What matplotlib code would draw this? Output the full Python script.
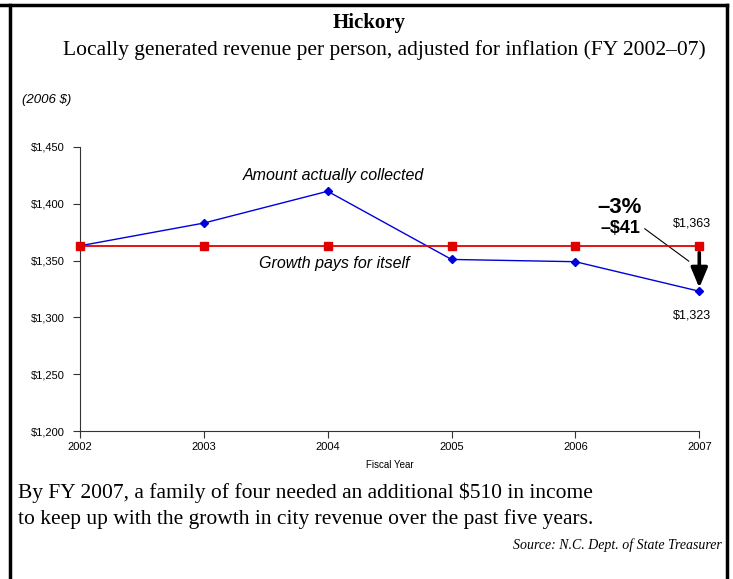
import matplotlib
matplotlib.use("Agg")
import matplotlib.pyplot as plt
from matplotlib.lines import Line2D

years = [2002, 2003, 2004, 2005, 2006, 2007]
collected = [1363, 1383, 1411, 1351, 1349, 1323]
growth_pays = [1363, 1363, 1363, 1363, 1363, 1363]
yticks = [1200, 1250, 1300, 1350, 1400, 1450]
change_pct = "\u20133%"
change_usd = "\u2013$41"

SANS = "Liberation Sans"
SERIF = "Liberation Serif"

fig = plt.figure(figsize=(7.33, 5.79), dpi=100)
ax = fig.add_axes([0.109, 0.2556, 0.845, 0.4906])

ax.plot(years, collected, color="#0000dd", lw=1.0, marker="D", ms=4,
        mec="#0000dd", mfc="#0000dd", zorder=2, clip_on=False)
ax.plot(years, growth_pays, color="#e00000", lw=1.3, marker="s", ms=6,
        mec="#e00000", mfc="#e00000", zorder=3, clip_on=False)

ax.set_xlim(2002, 2007)
ax.set_ylim(1200, 1450)
ax.set_xticks(years)
ax.set_xticklabels([str(y) for y in years], fontsize=8, family=SANS)
ax.set_yticks(yticks)
ax.set_yticklabels([f"${v:,}" for v in yticks], fontsize=8, family=SANS)
ax.tick_params(axis="both", length=5, width=0.8, color="#333333")
ax.tick_params(axis="y", pad=6)
ax.tick_params(axis="x", pad=3)
for s in ("top", "right"):
    ax.spines[s].set_visible(False)
for s in ("left", "bottom"):
    ax.spines[s].set_color("#333333")
    ax.spines[s].set_linewidth(0.8)
ax.set_xlabel("Fiscal Year", fontsize=7, family=SANS, labelpad=6)

# line labels
ax.text(2004.05, 1425, "Amount actually collected", fontsize=11.5, style="italic",
        family=SANS, ha="center", va="center")
ax.text(2004.05, 1347, "Growth pays for itself", fontsize=11.5, style="italic",
        family=SANS, ha="center", va="center")

# end-point values
ax.text(2006.94, 1383, f"${growth_pays[-1]:,}", fontsize=9, family=SANS,
        ha="center", va="center")
ax.text(2006.94, 1302, f"${collected[-1]:,}", fontsize=9, family=SANS,
        ha="center", va="center")

# change annotation
ax.text(2006.36, 1397, change_pct, fontsize=16, fontweight="bold",
        family=SANS, ha="center", va="center")
ax.text(2006.36, 1378, change_usd, fontsize=13, fontweight="bold",
        family=SANS, ha="center", va="center")
ax.plot([2006.56, 2006.915], [1378, 1349.5], color="black", lw=0.8)
ax.annotate("", xy=(2007, 1326), xytext=(2007, 1357),
            arrowprops=dict(arrowstyle="-|>,head_length=1.2,head_width=0.5",
                            color="black", lw=2.6, shrinkA=0, shrinkB=0))

# titles
fig.text(0.503, 0.961, "Hickory", fontsize=15, fontweight="bold", family=SERIF,
         ha="center", va="center")
fig.text(0.525, 0.914, "Locally generated revenue per person, adjusted for inflation (FY 2002\u201307)",
         fontsize=15.5, family=SERIF, ha="center", va="center")
fig.text(0.03, 0.827, "(2006 $)", fontsize=9.5, style="italic", family=SANS,
         ha="left", va="center")

# footer
fig.text(0.025, 0.1485, "By FY 2007, a family of four needed an additional $510 in income",
         fontsize=15.5, family=SERIF, ha="left", va="center")
fig.text(0.025, 0.1036, "to keep up with the growth in city revenue over the past five years.",
         fontsize=15.5, family=SERIF, ha="left", va="center")
fig.text(0.985, 0.059, "Source: N.C. Dept. of State Treasurer", fontsize=10,
         style="italic", family=SERIF, ha="right", va="center")

# frame
frame_kw = dict(color="black", lw=2.5, transform=fig.transFigure)
fig.add_artist(Line2D([0, 0.992], [0.991, 0.991], **frame_kw))
fig.add_artist(Line2D([0.0136, 0.0136], [0, 0.991], **frame_kw))
fig.add_artist(Line2D([0.992, 0.992], [0, 0.991], **frame_kw))

fig.savefig("out.png", dpi=100, facecolor="white")
